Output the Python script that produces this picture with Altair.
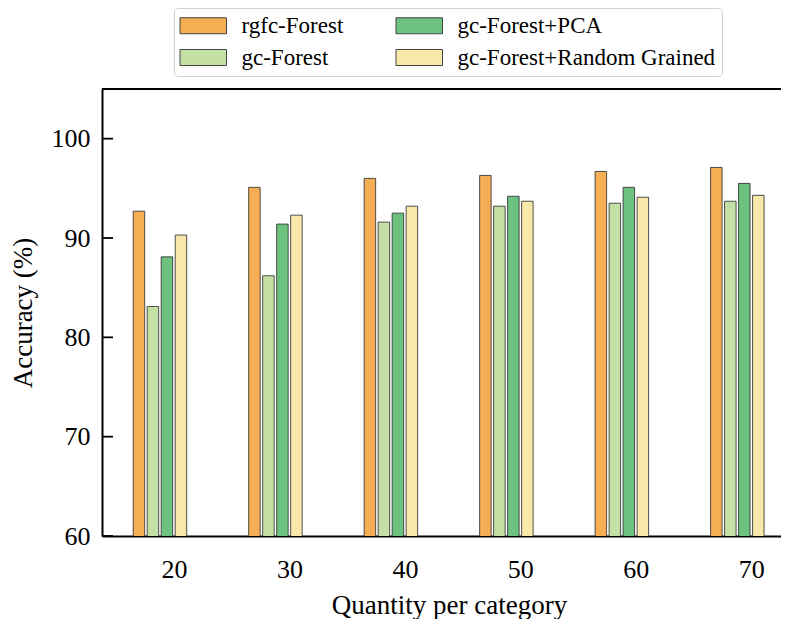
import altair as alt
import pandas as pd

# ---- data ----
quantity = [20, 30, 40, 50, 60, 70]
series_names = ["rgfc-Forest", "gc-Forest", "gc-Forest+PCA", "gc-Forest+Random Grained"]
rgfc_forest = [92.7, 95.1, 96.0, 96.3, 96.7, 97.1]
gc_forest = [83.1, 86.2, 91.6, 93.2, 93.5, 93.7]
gc_forest_pca = [88.1, 91.4, 92.5, 94.2, 95.1, 95.5]
gc_forest_rg = [90.3, 92.3, 93.2, 93.7, 94.1, 94.3]
y_ticks = [60, 70, 80, 90, 100]

series_values = [rgfc_forest, gc_forest, gc_forest_pca, gc_forest_rg]
series_colors = ["#F6AE54", "#C5E0A5", "#6EC27F", "#F8E8A9"]

rows = []
for i, (name, vals) in enumerate(zip(series_names, series_values)):
    for q, v in zip(quantity, vals):
        rows.append({"quantity": q, "series": name, "idx": i, "accuracy": v})
df = pd.DataFrame(rows)
ticks_df = pd.DataFrame({"tick": y_ticks})

W, H = 679, 447
FONT = "Liberation Serif"

x_scale = alt.Scale(domain=[13.77, 72.57], nice=False, zero=False, padding=0)
y_scale = alt.Scale(domain=[60, 105], nice=False, zero=False, padding=0)

bars = alt.Chart(df).transform_calculate(
    xpos="datum.quantity + (datum.idx - 2.5) * 1.212"
).mark_bar(width=11.5, stroke="#333333", strokeWidth=1, strokeOpacity=0.85, clip=True).encode(
    x=alt.X("xpos:Q", scale=x_scale,
            axis=alt.Axis(values=quantity, title="Quantity per category", ticks=False, tickSize=0,
                          labelFont=FONT, labelFontSize=26, labelPadding=20, labelColor="black",
                          domainColor="black", domainWidth=2, grid=False,
                          titleFont=FONT, titleFontSize=27, titleFontWeight="normal", titleColor="black",
                          titleX=347, titleY=77, titleBaseline="alphabetic", titleAlign="center")),
    y=alt.Y("accuracy:Q", scale=y_scale,
            axis=alt.Axis(values=y_ticks, title="Accuracy (%)", ticks=False, tickSize=0,
                          labelFont=FONT, labelFontSize=26, labelPadding=12, labelColor="black",
                          domainColor="black", domainWidth=2, grid=False,
                          titleFont=FONT, titleFontSize=27, titleFontWeight="normal", titleColor="black",
                          titleX=-79, titleY=223.5, titleBaseline="middle", titleAlign="center",
                          titleAngle=270)),
    color=alt.Color("series:N", scale=alt.Scale(domain=series_names, range=series_colors),
                    legend=alt.Legend(title=None, orient="none", legendX=72, legendY=-81,
                                      columns=2, direction="vertical",
                                      symbolType="M-1.4375,-1L4.375,-1L4.375,1L-1.4375,1Z",
                                      symbolSize=256, symbolStrokeColor="#444444", symbolStrokeWidth=1,
                                      symbolOpacity=1,
                                      labelFont=FONT, labelFontSize=23, labelColor="black",
                                      labelOffset=38.5, labelLimit=500,
                                      rowPadding=8, columnPadding=50, padding=6,
                                      strokeColor="#d0d0d0", fillColor="white", cornerRadius=4)),
)

tick_marks = alt.Chart(ticks_df).mark_rule(color="black", strokeWidth=1.8).encode(
    y=alt.Y("tick:Q", scale=y_scale),
    x=alt.value(0),
    x2=alt.value(11),
)

top_frame = alt.Chart(ticks_df).mark_rule(color="black", strokeWidth=2).encode(
    y=alt.value(0),
    x=alt.value(0),
    x2=alt.value(W),
)

chart = alt.layer(bars, tick_marks, top_frame).properties(
    width=W, height=H,
    autosize=alt.AutoSizeParams(type="none"),
    padding={"left": 94, "top": 81, "right": 0, "bottom": 83},
    background="white",
).configure_view(stroke=None)

chart.save("out.html", embed_options={"renderer": "svg", "actions": False})
